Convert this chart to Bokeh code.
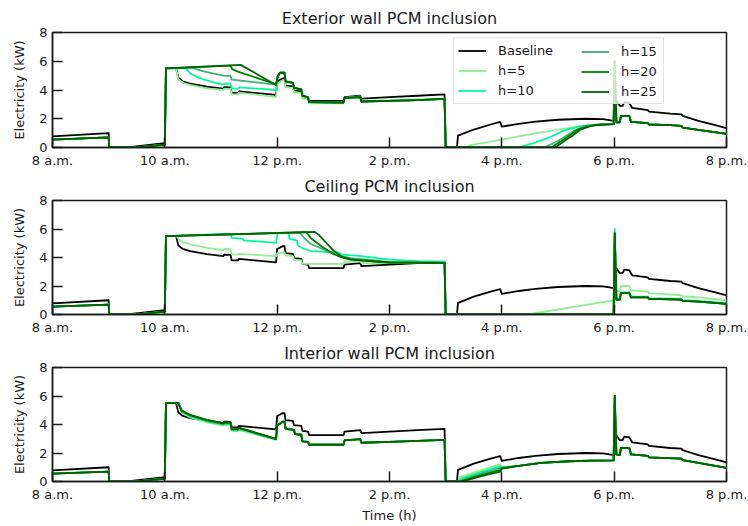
from bokeh.plotting import figure
from bokeh.layouts import column
from bokeh.models import Range1d, FixedTicker, Legend, LegendItem
from bokeh.embed import file_html
from bokeh.resources import INLINE

# ---------------- chart text / categories ----------------
HOUR_TICKS = [8, 10, 12, 14, 16, 18, 20]
HOUR_LABELS = ["8 a.m.", "10 a.m.", "12 p.m.", "2 p.m.", "4 p.m.", "6 p.m.", "8 p.m."]
Y_TICKS = [0, 2, 4, 6, 8]
SERIES_NAMES = ["Baseline", "h=5", "h=10", "h=15", "h=20", "h=25"]
PANEL_TITLES = ["Exterior wall PCM inclusion", "Ceiling PCM inclusion", "Interior wall PCM inclusion"]
Y_LABEL = "Electricity (kW)"
X_LABEL = "Time (h)"
COLORS = ["#000000", "#90ee90", "#00fa9a", "#3cb371", "#008000", "#006400"]

# ---------------- data: (hour, kW) ----------------
BASELINE = [
    (8.0, 0.78), (9.0, 1.0), (9.01, 0.0), (9.33, 0.0), (10.0, 0.3), (10.02, 5.52),
    (10.2, 5.52), (10.24, 4.85), (10.32, 4.6), (10.45, 4.45), (10.75, 4.23), (11.04, 4.1),
    (11.06, 4.2), (11.17, 4.18), (11.19, 3.8), (11.3, 3.8), (11.32, 3.9), (11.6, 3.8),
    (11.98, 3.66), (12.0, 4.6), (12.1, 4.8), (12.13, 4.8), (12.15, 4.3), (12.28, 4.25),
    (12.3, 3.95), (12.43, 3.9), (12.45, 3.55), (12.55, 3.5), (12.57, 3.25), (13.18, 3.25),
    (13.2, 3.5), (13.48, 3.6), (13.5, 3.4), (14.0, 3.5), (14.5, 3.6), (14.98, 3.7),
    (15.0, 0.0), (15.2, 0.0), (15.22, 0.82), (15.5, 1.25), (15.8, 1.6), (15.97, 1.78),
    (16.0, 1.45), (16.3, 1.65), (16.6, 1.8), (17.0, 1.93), (17.5, 2.0), (17.8, 1.97),
    (18.0, 1.85), (18.03, 3.3), (18.1, 2.9), (18.15, 2.9), (18.18, 3.15), (18.27, 3.1),
    (18.32, 2.75), (18.6, 2.6), (18.62, 2.5), (19.0, 2.35), (19.2, 2.3), (19.22, 2.2),
    (19.5, 1.85), (19.8, 1.55), (20.0, 1.35),
]

GREEN_EARLY = [(8.0, 0.55), (9.0, 0.7), (9.01, 0.0), (9.5, 0.0), (10.0, 0.2), (10.02, 5.5)]

# --- Exterior wall ---
EXT_EVENING = [
    (18.01, 6.0), (18.04, 1.75), (18.1, 1.75), (18.12, 2.2), (18.27, 2.2), (18.3, 1.78),
    (18.6, 1.7), (18.62, 1.6), (19.0, 1.55), (19.2, 1.5), (19.22, 1.38), (19.5, 1.22), (20.0, 0.95),
]
EXT_MIDDAY = [
    (12.01, 4.95), (12.05, 5.2), (12.13, 5.2), (12.15, 4.6), (12.28, 4.5), (12.3, 4.15),
    (12.43, 4.05), (12.45, 3.6), (12.55, 3.5), (12.57, 3.15), (13.18, 3.12), (13.2, 3.45),
    (13.48, 3.5), (13.5, 3.2), (14.0, 3.25), (14.5, 3.3), (14.98, 3.38), (15.0, 0.0),
]
EXT_H5 = [
    (10.2, 5.5), (10.24, 4.75), (10.32, 4.5), (10.45, 4.35), (10.75, 4.12), (11.04, 4.0),
    (11.06, 4.1), (11.17, 4.08), (11.19, 3.72), (11.3, 3.7), (11.32, 3.8), (11.6, 3.7),
    (11.98, 3.5), (12.0, 4.4), (12.1, 4.7), (12.13, 4.7), (12.15, 4.2), (12.28, 4.15),
    (12.3, 3.85), (12.43, 3.8), (12.45, 3.4), (12.55, 3.35), (12.57, 3.08), (13.18, 3.08),
    (13.2, 3.45), (13.48, 3.55), (13.5, 3.25), (14.0, 3.3), (14.5, 3.35), (14.98, 3.4),
    (15.0, 0.0), (15.37, 0.0), (15.42, 0.15), (16.0, 0.55), (16.5, 0.92), (17.0, 1.25),
    (17.5, 1.52), (17.8, 1.6), (17.99, 1.62),
]
EXT_H10_AM = [
    (10.37, 5.53), (10.45, 5.15), (10.6, 4.86), (10.82, 4.58), (11.04, 4.38), (11.06, 4.45),
    (11.17, 4.43), (11.19, 4.12), (11.3, 4.1), (11.32, 4.18), (11.98, 4.0),
]
EXT_H10_PM = [(16.3, 0.0), (16.6, 0.35), (16.85, 0.7), (17.1, 1.17), (17.4, 1.48), (17.7, 1.6), (17.99, 1.62)]
EXT_H15_AM = [(10.47, 5.55), (10.6, 5.4), (10.75, 5.24), (11.04, 5.0), (11.17, 4.98), (11.19, 4.72), (11.98, 4.38)]
EXT_H15_PM = [(16.75, 0.0), (17.0, 0.45), (17.1, 0.7), (17.3, 1.2), (17.5, 1.5), (17.8, 1.6), (17.99, 1.62)]
EXT_H20_AM = [(11.17, 5.7), (11.2, 5.45), (11.3, 5.28), (11.98, 4.4)]
EXT_H20_PM = [(16.88, 0.0), (17.1, 0.55), (17.2, 0.82), (17.35, 1.25), (17.5, 1.45), (17.7, 1.58), (17.99, 1.62)]
EXT_H25_AM = [(11.35, 5.75), (11.98, 4.35)]
EXT_H25_PM = [(16.95, 0.0), (17.15, 0.55), (17.25, 0.8), (17.4, 1.25), (17.6, 1.52), (17.8, 1.6), (17.99, 1.62)]

# --- Ceiling ---
CEIL_EVENING = [
    (17.99, 0.0), (18.01, 5.7), (18.04, 1.05), (18.1, 1.05), (18.12, 1.5), (18.27, 1.5),
    (18.3, 1.2), (18.6, 1.2), (18.62, 1.1), (19.2, 1.05), (19.22, 0.95), (19.5, 0.9), (20.0, 0.75),
]
CEIL_H5 = [
    (10.2, 5.52), (10.28, 5.15), (10.45, 4.92), (10.75, 4.68), (11.04, 4.52), (11.06, 4.6),
    (11.17, 4.58), (11.19, 4.22), (11.3, 4.2), (11.32, 4.25), (11.98, 4.1), (12.0, 4.3),
    (12.1, 4.35), (12.13, 4.35), (12.15, 4.15), (12.28, 4.1), (12.3, 3.85), (12.43, 3.8),
    (12.45, 3.55), (13.18, 3.55), (13.2, 3.7), (13.48, 3.75), (13.5, 3.6), (14.0, 3.6),
    (14.98, 3.65), (15.0, 0.0), (16.45, 0.0), (17.0, 0.35), (17.5, 0.68), (17.99, 1.0),
    (18.01, 5.8), (18.04, 1.65), (18.1, 1.65), (18.12, 2.0), (18.27, 2.0), (18.3, 1.7),
    (18.6, 1.6), (18.62, 1.5), (19.2, 1.35), (19.22, 1.28), (19.5, 1.2), (20.0, 1.0),
]
CEIL_H10 = [
    (11.17, 5.68), (11.19, 5.38), (11.38, 5.33), (11.4, 5.2), (11.98, 5.03), (12.01, 5.72),
    (12.2, 5.75), (12.22, 5.3), (12.35, 5.2), (12.37, 4.85), (12.45, 4.65), (12.6, 4.45),
    (13.1, 4.35), (13.15, 4.2), (13.5, 4.1), (14.0, 3.85), (14.5, 3.75), (14.98, 3.72),
    (15.0, 0.0), (17.99, 0.0), (18.01, 6.0), (18.04, 1.1), (18.1, 1.1), (18.12, 1.55),
    (18.27, 1.55), (18.3, 1.25), (18.6, 1.25), (18.62, 1.15), (19.2, 1.1), (19.22, 1.0),
    (19.5, 0.95), (20.0, 0.8),
]
CEIL_H15 = [
    (12.4, 5.75), (12.5, 5.3), (12.6, 4.95), (12.75, 4.7), (12.9, 4.45), (13.1, 4.15),
    (13.3, 3.95), (13.6, 3.85), (14.0, 3.7), (14.98, 3.65), (15.0, 0.0),
]
CEIL_H20 = [
    (12.52, 5.78), (12.6, 5.35), (12.8, 4.75), (13.0, 4.25), (13.15, 4.0), (13.3, 3.85),
    (14.0, 3.65), (14.98, 3.62), (15.0, 0.0),
]
CEIL_H25 = [
    (12.67, 5.8), (12.75, 5.55), (12.88, 5.0), (13.0, 4.5), (13.15, 4.05), (13.3, 3.88),
    (13.5, 3.8), (14.0, 3.65), (14.98, 3.6), (15.0, 0.0),
]

# --- Interior wall ---
INT_H5_AM = [(10.24, 5.52), (10.3, 4.85), (10.45, 4.5), (10.75, 4.15), (11.04, 3.93), (11.06, 3.98),
             (11.17, 3.96), (11.19, 3.55), (11.3, 3.53), (11.32, 3.62), (11.98, 2.92)]
INT_H10_AM = [(10.24, 5.52), (10.3, 4.9), (10.45, 4.56), (10.75, 4.21), (11.04, 3.99), (11.06, 4.04),
              (11.17, 4.02), (11.19, 3.6), (11.3, 3.58), (11.32, 3.68), (11.98, 2.95)]
INT_H15_AM = [(10.24, 5.52), (10.3, 4.93), (10.45, 4.61), (10.75, 4.26), (11.04, 4.03), (11.06, 4.09),
              (11.17, 4.07), (11.19, 3.64), (11.3, 3.62), (11.32, 3.72), (11.98, 2.97)]
INT_H20_AM = [(10.24, 5.52), (10.3, 4.96), (10.45, 4.65), (10.75, 4.3), (11.04, 4.07), (11.06, 4.13),
              (11.17, 4.11), (11.19, 3.67), (11.3, 3.65), (11.32, 3.75), (11.98, 2.98)]
INT_H25_AM = [(10.24, 5.52), (10.3, 4.98), (10.45, 4.68), (10.75, 4.33), (11.04, 4.1), (11.06, 4.16),
              (11.17, 4.14), (11.19, 3.7), (11.3, 3.68), (11.32, 3.78), (11.98, 3.0)]
INT_MIDDAY = [
    (12.0, 3.95), (12.1, 4.2), (12.13, 4.2), (12.15, 3.7), (12.3, 3.62), (12.32, 3.32),
    (12.43, 3.28), (12.45, 2.82), (12.55, 2.78), (12.57, 2.58), (13.18, 2.58), (13.2, 2.88),
    (13.48, 2.98), (13.5, 2.72), (14.0, 2.78), (14.5, 2.85), (14.98, 2.92), (15.0, 0.0),
]
INT_H5_PM = [(15.22, 0.0), (15.25, 0.3), (15.6, 0.75), (15.97, 1.22), (16.0, 1.02)]
INT_H10_PM = [(15.24, 0.0), (15.27, 0.2), (15.6, 0.62), (15.97, 1.08), (16.0, 0.99)]
INT_H15_PM = [(15.26, 0.0), (15.29, 0.12), (15.6, 0.52), (15.97, 0.95), (16.0, 0.96)]
INT_H20_PM = [(15.28, 0.0), (15.31, 0.06), (15.6, 0.42), (15.97, 0.82), (16.0, 0.93)]
INT_H25_PM = [(15.3, 0.0), (15.6, 0.35), (15.97, 0.7), (16.0, 0.9)]
INT_LATE = [(16.3, 1.1), (16.7, 1.3), (17.2, 1.42), (17.6, 1.47), (17.99, 1.48)]
INT_EVENING = [
    (18.01, 6.0), (18.04, 1.9), (18.1, 1.85), (18.12, 2.35), (18.27, 2.35), (18.3, 1.9),
    (18.6, 1.8), (18.62, 1.7), (19.2, 1.6), (19.22, 1.5), (19.5, 1.3), (20.0, 0.95),
]

PANELS = [
    [
        BASELINE,
        GREEN_EARLY + EXT_H5 + EXT_EVENING,
        GREEN_EARLY + EXT_H10_AM + EXT_MIDDAY + EXT_H10_PM + EXT_EVENING,
        GREEN_EARLY + EXT_H15_AM + EXT_MIDDAY + EXT_H15_PM + EXT_EVENING,
        GREEN_EARLY + EXT_H20_AM + EXT_MIDDAY + EXT_H20_PM + EXT_EVENING,
        GREEN_EARLY + EXT_H25_AM + EXT_MIDDAY + EXT_H25_PM + EXT_EVENING,
    ],
    [
        BASELINE,
        GREEN_EARLY + CEIL_H5,
        GREEN_EARLY + CEIL_H10,
        GREEN_EARLY + CEIL_H15 + CEIL_EVENING,
        GREEN_EARLY + CEIL_H20 + CEIL_EVENING,
        GREEN_EARLY + CEIL_H25 + CEIL_EVENING,
    ],
    [
        BASELINE,
        GREEN_EARLY + INT_H5_AM + INT_MIDDAY + INT_H5_PM + INT_LATE + INT_EVENING,
        GREEN_EARLY + INT_H10_AM + INT_MIDDAY + INT_H10_PM + INT_LATE + INT_EVENING,
        GREEN_EARLY + INT_H15_AM + INT_MIDDAY + INT_H15_PM + INT_LATE + INT_EVENING,
        GREEN_EARLY + INT_H20_AM + INT_MIDDAY + INT_H20_PM + INT_LATE + INT_EVENING,
        GREEN_EARLY + INT_H25_AM + INT_MIDDAY + INT_H25_PM + INT_LATE + INT_EVENING,
    ],
]

FONT = "DejaVu Sans"
INK = "#1a1a1a"


def make_panel(title, series, top, bottom, title_valign, show_legend, show_xlabel):
    p = figure(
        width=748, height=top + 115 + bottom,
        x_range=Range1d(8, 20), y_range=Range1d(0, 8),
        output_backend="svg", toolbar_location=None,
        min_border_left=52, min_border_right=22,
        min_border_top=top, min_border_bottom=bottom,
    )
    p.title.text = title
    p.title.align = "center"
    p.title.vertical_align = title_valign
    p.title.text_font = FONT
    p.title.text_font_size = "16px"
    p.title.text_font_style = "normal"
    p.title.text_color = INK
    p.title.standoff = 5

    p.xgrid.visible = False
    p.ygrid.visible = False
    p.outline_line_color = INK
    p.outline_line_width = 1.5
    p.outline_line_alpha = 1.0

    for ax in (p.xaxis[0], p.yaxis[0]):
        ax.major_tick_in = 10
        ax.major_tick_out = 0
        ax.minor_tick_in = 0
        ax.minor_tick_out = 0
        ax.major_tick_line_width = 1.5
        ax.major_tick_line_color = INK
        ax.axis_line_color = INK
        ax.axis_line_width = 1.5
        ax.major_label_text_font = FONT
        ax.major_label_text_font_size = "13px"
        ax.major_label_text_color = INK
        ax.major_label_standoff = 5
        ax.axis_label_text_font = FONT
        ax.axis_label_text_font_size = "13px"
        ax.axis_label_text_font_style = "normal"
        ax.axis_label_text_color = INK

    p.xaxis.ticker = FixedTicker(ticks=HOUR_TICKS)
    p.xaxis.major_label_overrides = {t: lab for t, lab in zip(HOUR_TICKS, HOUR_LABELS)}
    p.yaxis.ticker = FixedTicker(ticks=Y_TICKS)
    p.yaxis.axis_label = Y_LABEL
    p.yaxis.axis_label_standoff = 9
    if show_xlabel:
        p.xaxis.axis_label = X_LABEL
        p.xaxis.axis_label_standoff = 3

    renderers = []
    for pts, color in zip(series, COLORS):
        xs = [t for t, v in pts]
        ys = [v for t, v in pts]
        r = p.line(xs, ys, line_color=color, line_width=1.8, line_join="round")
        renderers.append(r)

    if show_legend:
        common = dict(
            glyph_width=28, glyph_height=17, label_height=17, spacing=3,
            padding=4, margin=0, label_standoff=12,
            label_text_font=FONT, label_text_font_size="13px", label_text_color=INK,
        )
        leg_a = Legend(
            items=[LegendItem(label=n, renderers=[r]) for n, r in zip(SERIES_NAMES[:3], renderers[:3])],
            location=(401, 43), label_width=161,
            border_line_color="#cccccc", border_line_width=1,
            background_fill_color="white", background_fill_alpha=0.8,
            **common,
        )
        leg_b = Legend(
            items=[LegendItem(label=n, renderers=[r]) for n, r in zip(SERIES_NAMES[3:], renderers[3:])],
            location=(525, 43),
            border_line_color="#cccccc", border_line_width=1, border_line_alpha=0.0,
            background_fill_color="white", background_fill_alpha=0.0,
            **common,
        )
        p.add_layout(leg_a)
        p.add_layout(leg_b)
    return p


LAYOUT_BORDERS = [(32, 27, "top"), (25, 27, "top"), (25, 45, "top")]
figs = []
for i, (title, series) in enumerate(zip(PANEL_TITLES, PANELS)):
    top, bottom, valign = LAYOUT_BORDERS[i]
    figs.append(make_panel(title, series, top, bottom, valign, show_legend=(i == 0), show_xlabel=(i == 2)))

layout = column(*figs, spacing=0)
open("out.html", "w").write(file_html(layout, INLINE, "PCM inclusion"))
